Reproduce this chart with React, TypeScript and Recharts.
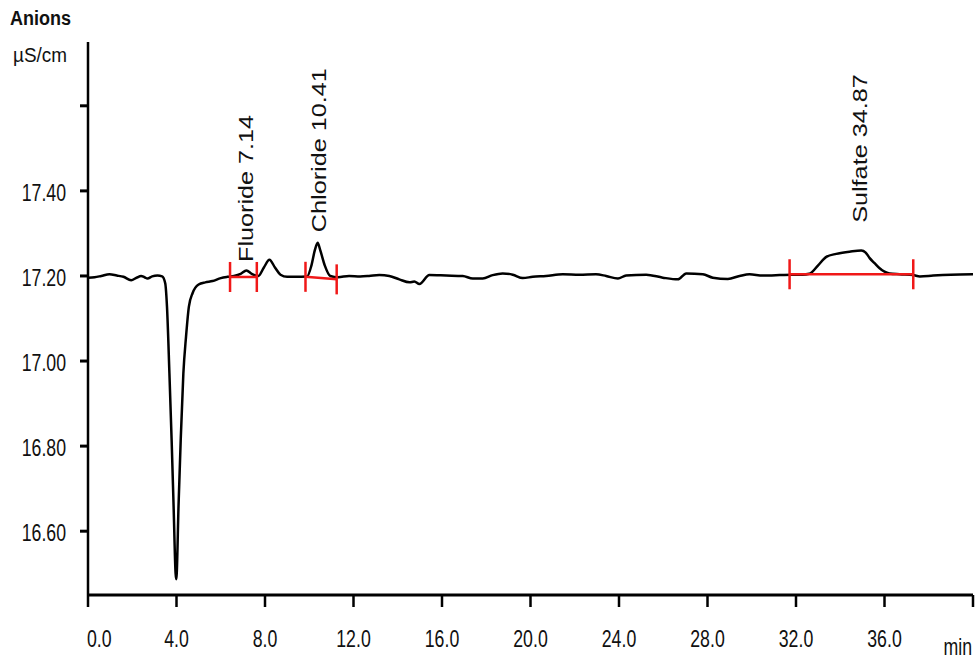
import React from 'react';
import { LineChart, Line, XAxis, YAxis, ReferenceLine, ReferenceDot } from 'recharts';

// retention time (min) and conductivity (µS/cm)
const times = [
  0.0, 0.3, 0.6, 0.97, 1.3, 1.6, 1.95, 2.2, 2.4, 2.55, 2.69, 2.9, 3.14, 3.35,
  3.49, 3.57, 3.68, 3.78, 3.87, 3.96, 3.99, 4.01, 4.09, 4.19, 4.31, 4.43, 4.56, 4.73,
  5.0, 5.3, 5.63, 6.0, 6.3, 6.6, 6.9, 7.16, 7.4, 7.7, 7.95, 8.2, 8.45, 8.7,
  9.0, 9.4, 9.9, 10.1, 10.25, 10.38, 10.5, 10.7, 10.95, 11.3, 11.8, 12.3, 12.7,
  13.17, 13.62, 14.07, 14.53, 14.75, 14.98, 15.43, 16.19, 16.94, 17.39, 17.84, 18.29,
  18.74, 19.2, 19.65, 20.1, 20.7, 21.46, 22.21, 22.96, 23.42, 23.95, 24.32, 25.23,
  25.98, 26.66, 27.04, 27.79, 28.24, 28.92, 29.45, 29.9, 30.5, 31.26, 31.8, 32.3,
  32.6, 33.0, 33.37, 33.82, 34.42, 34.95, 35.15, 35.33, 35.55, 35.78, 36.0, 36.23,
  36.68, 37.3, 37.6, 38.2, 39.0, 40.0,
];
const signal = [
  17.196, 17.197, 17.2, 17.204, 17.201, 17.198, 17.19, 17.196, 17.2, 17.197, 17.194, 17.199, 17.201, 17.199,
  17.183, 17.128, 16.971, 16.814, 16.657, 16.5, 16.487, 16.5, 16.657, 16.814, 16.971, 17.057, 17.128, 17.16,
  17.18, 17.185, 17.188, 17.195, 17.198, 17.2, 17.205, 17.213, 17.205, 17.2, 17.22, 17.238, 17.22, 17.203,
  17.198, 17.198, 17.199, 17.225, 17.26, 17.278, 17.26, 17.225, 17.2, 17.197, 17.2, 17.199, 17.2,
  17.202, 17.2, 17.192, 17.185, 17.187, 17.181, 17.202, 17.201, 17.2, 17.194, 17.194, 17.202,
  17.206, 17.203, 17.195, 17.198, 17.2, 17.204, 17.203, 17.204, 17.2, 17.194, 17.201, 17.203,
  17.196, 17.192, 17.206, 17.204, 17.196, 17.193, 17.2, 17.204, 17.201, 17.202, 17.203, 17.203,
  17.205, 17.225, 17.245, 17.252, 17.257, 17.26, 17.255, 17.242, 17.23, 17.218, 17.21, 17.206,
  17.204, 17.202, 17.199, 17.201, 17.203, 17.204,
];

// identified peaks
const peakNames = ['Fluoride', 'Chloride', 'Sulfate'];
const peakTimes = [7.14, 10.41, 34.87];
const peakLabelBase = [17.233, 17.303, 17.325];
// integration windows
const intStart = [6.42, 9.83, 31.71];
const intEnd = [7.63, 11.24, 37.3];
const intStartLevel = [17.1976, 17.198, 17.204];
const intEndLevel = [17.1976, 17.192, 17.204];

const xTicks = [0, 4, 8, 12, 16, 20, 24, 28, 32, 36, 40];
const yTicks = [16.6, 16.8, 17.0, 17.2, 17.4, 17.6];

const data = times.map((t, i) => ({ t, v: signal[i] }));

const FONT = '"Liberation Sans", Arial, sans-serif';
const RED = '#f01818';
const TICK_HALF = 0.0353;
const SQUEEZE = 0.77; // the original print is stretched vertically

const XTick = (props: any) => {
  const { x, y, payload } = props;
  const val = payload.value as number;
  const isUnit = val === 40;
  const tx = isUnit ? x - 1 : val === 0 ? x - 1 : x;
  const ty = isUnit ? y + 48 : y + 40;
  return (
    <text
      transform={`translate(${tx},${ty}) scale(${SQUEEZE},1)`}
      textAnchor={isUnit ? 'end' : val === 0 ? 'start' : 'middle'}
      fontSize={23}
      fontFamily={FONT}
      fill="#111"
    >
      {isUnit ? 'min' : val.toFixed(1)}
    </text>
  );
};

const YTick = (props: any) => {
  const { x, y, payload } = props;
  const val = payload.value as number;
  if (val > 17.5) return null;
  return (
    <text
      transform={`translate(${x},${y + 2}) scale(${SQUEEZE},1)`}
      textAnchor="end"
      dy="0.36em"
      fontSize={23}
      fontFamily={FONT}
      fill="#111"
    >
      {val.toFixed(2)}
    </text>
  );
};

const PeakLabel = (text: string) => (props: any) => {
  const { cx, cy } = props;
  return (
    <text
      transform={`translate(${cx},${cy}) rotate(-90) scale(1.2,1)`}
      dy="0.35em"
      fontSize={21}
      fontFamily={FONT}
      fill="#111"
    >
      {text}
    </text>
  );
};

export default function App() {
  return (
    <div style={{ position: 'absolute', left: 0, top: 0, width: 978, height: 661, background: '#fff' }}>
      <div
        style={{
          position: 'absolute', left: 10, top: 8, fontSize: 20, lineHeight: '20px',
          fontWeight: 'bold', fontFamily: FONT, color: '#111',
          transform: 'scaleX(0.9)', transformOrigin: 'left top',
        }}
      >
        Anions
      </div>
      <div
        style={{
          position: 'absolute', left: 13, top: 44, fontSize: 21, lineHeight: '21px',
          fontFamily: FONT, color: '#111',
          transform: 'scaleX(0.9)', transformOrigin: 'left top',
        }}
      >
        µS/cm
      </div>
      <LineChart width={978} height={661} data={data} margin={{ top: 42, right: 5, left: 0, bottom: 0 }}>
        <XAxis
          dataKey="t"
          type="number"
          domain={[0, 40]}
          ticks={xTicks}
          height={66}
          tickSize={12}
          tickMargin={0}
          axisLine={{ stroke: '#000', strokeWidth: 3 }}
          tickLine={{ stroke: '#000', strokeWidth: 2.5 }}
          tick={<XTick />}
          interval={0}
        />
        <YAxis
          type="number"
          domain={[16.45, 17.75]}
          ticks={yTicks}
          width={88}
          tickSize={8}
          tickMargin={14}
          axisLine={{ stroke: '#000', strokeWidth: 2.5 }}
          tickLine={{ stroke: '#000', strokeWidth: 3 }}
          tick={<YTick />}
          interval={0}
          allowDataOverflow
        />
        <Line
          type="monotone"
          dataKey="v"
          stroke="#000"
          strokeWidth={2.5}
          dot={false}
          isAnimationActive={false}
        />
        {intStart.map((s, i) => (
          <ReferenceLine
            key={`base-${i}`}
            segment={[{ x: s, y: intStartLevel[i] }, { x: intEnd[i], y: intEndLevel[i] }]}
            stroke={RED}
            strokeWidth={2.5}
          />
        ))}
        {intStart.map((s, i) => (
          <ReferenceLine
            key={`s-${i}`}
            segment={[{ x: s, y: intStartLevel[i] - TICK_HALF }, { x: s, y: intStartLevel[i] + TICK_HALF }]}
            stroke={RED}
            strokeWidth={2.5}
          />
        ))}
        {intEnd.map((e, i) => (
          <ReferenceLine
            key={`e-${i}`}
            segment={[{ x: e, y: intEndLevel[i] - TICK_HALF }, { x: e, y: intEndLevel[i] + TICK_HALF }]}
            stroke={RED}
            strokeWidth={2.5}
          />
        ))}
        {peakNames.map((name, i) => (
          <ReferenceDot
            key={name}
            x={peakTimes[i]}
            y={peakLabelBase[i]}
            r={0}
            shape={PeakLabel(`${name} ${peakTimes[i].toFixed(2)}`)}
          />
        ))}
      </LineChart>
    </div>
  );
}
